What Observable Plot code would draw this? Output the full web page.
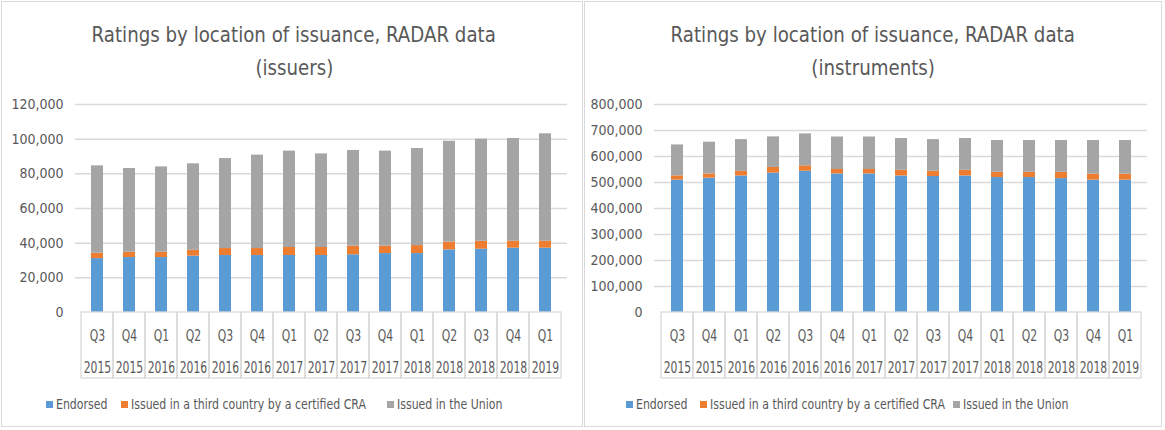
<!DOCTYPE html>
<html><head><meta charset="utf-8">
<script src="https://cdn.jsdelivr.net/npm/d3@7"></script>
<script src="https://cdn.jsdelivr.net/npm/@observablehq/plot@0.6"></script>
<style>
body{margin:0;background:#fff;}
#wrap{position:relative;width:1165px;height:430px;overflow:hidden;background:#fff;font-family:"Liberation Sans Narrow","DejaVu Sans Condensed",Roboto,sans-serif;color:#595959}
.box{position:absolute;top:1px;height:426px;border:1px solid #d9d9d9;box-sizing:border-box;background:#fff}
.title{position:absolute;top:18px;text-align:center;font-size:22px;line-height:33px;color:#595959;white-space:nowrap}
.title div span{display:inline-block;transform:scaleX(0.92);transform-origin:center}
.chart{position:absolute;top:84px}
.lg{position:absolute;top:395px;font-size:14px;line-height:18px;white-space:nowrap;color:#595959}
.lg .tx{display:inline-block;transform:scaleX(0.87);transform-origin:left center}
.sw{display:inline-block;width:7px;height:7px;margin-right:3px;vertical-align:1px}
</style>
</head><body>
<div id="wrap">
  <div class="box" style="left:1px;width:582px"></div>
  <div class="box" style="left:584px;width:578px"></div>
</div>
<script>
const quarters = ["Q3","Q4","Q1","Q2","Q3","Q4","Q1","Q2","Q3","Q4","Q1","Q2","Q3","Q4","Q1"];
const years = ["2015","2015","2016","2016","2016","2016","2017","2017","2017","2017","2018","2018","2018","2018","2019"];
const seriesNames = ["Endorsed","Issued in a third country by a certified CRA","Issued in the Union"];
const seriesColors = ["#5b9bd5","#ed7d31","#a5a5a5"];

// Issuers
const issuersEndorsed = [31100,31700,31700,32500,32900,32900,32900,32900,33300,34000,34000,36100,36500,37100,37100];
const issuersThird    = [3100,3100,3100,3400,4000,4000,4600,4600,5000,4300,4600,4500,4600,4000,4000];
const issuersUnion    = [50400,48300,49200,49900,51900,53900,55600,54000,55200,54800,56000,58200,58900,59300,62000];
const issuersTicks = [0,20000,40000,60000,80000,100000,120000];

// Instruments
const instrEndorsed = [509000,516500,525000,536000,543500,533000,533000,525000,523000,525000,519000,519000,515000,509000,509000];
const instrThird    = [16500,16500,18000,22000,20500,17000,17000,22000,20500,22000,20500,20500,24500,23000,23000];
const instrUnion    = [119000,122000,122000,117500,123000,125000,125000,122000,121500,122000,122000,122000,122000,129500,129500];
const instrTicks = [0,100000,200000,300000,400000,500000,600000,700000,800000];

const titles = [["Ratings by location of issuance, RADAR data","(issuers)"],["Ratings by location of issuance, RADAR data","(instruments)"]];

const cats = quarters.map((q,i)=>q+" "+years[i]);

function makeChart(seriesVals, ticks, width, marginLeft, marginRight){
  const rows = [];
  cats.forEach((c,i)=>seriesVals.forEach((vals,k)=>rows.push({cat:c, series:seriesNames[k], value:vals[i]})));
  return Plot.plot({
    width, height:301, marginLeft, marginRight, marginTop:20, marginBottom:73,
    style:{fontFamily:'"Liberation Sans Narrow","DejaVu Sans Condensed",Roboto,sans-serif', fontSize:"14px", color:"#595959", background:"transparent", overflow:"visible"},
    x:{domain:cats, padding:0, axis:null},
    y:{domain:[0, ticks[ticks.length-1]], axis:null},
    color:{domain:seriesNames, range:seriesColors},
    marks:[
      Plot.gridY(ticks.filter(d=>d>0), {stroke:"#d9d9d9", strokeOpacity:1, strokeWidth:1.5}),
      Plot.barY(rows, Plot.stackY({x:"cat", y:"value", fill:"series", order:seriesNames, insetLeft:10, insetRight:10})),
      Plot.cell(cats, {x:d=>d, fill:"none", stroke:"#d9d9d9", strokeWidth:1.3, insetTop:208, insetBottom:-66}),
      Plot.text(cats, {x:d=>d, text:(d,i)=>quarters[i], frameAnchor:"bottom", dy:28, fill:"#595959", fontSize:15, className:"xlab"}),
      Plot.text(cats, {x:d=>d, text:(d,i)=>years[i], frameAnchor:"bottom", dy:60, fill:"#595959", fontSize:15, className:"xlab"}),
      Plot.axisY(ticks, {tickSize:0, tickPadding:12, tickFormat:d3.format(","), fill:"#595959", fontSize:14, label:null})
    ]
  });
}

const wrap = document.getElementById("wrap");
function addTitle(lines, left, width){
  const t = document.createElement("div");
  t.className="title"; t.style.left=left+"px"; t.style.width=width+"px";
  t.innerHTML = lines.map(l=>"<div><span>"+l+"</span></div>").join("");
  wrap.appendChild(t);
}
function addChart(svg, left){
  const d = document.createElement("div"); d.className="chart"; d.style.left=left+"px";
  d.appendChild(svg); wrap.appendChild(d);
  // condense the category labels (narrow office font look)
  svg.querySelectorAll("g.xlab text").forEach(t=>{
    const len = t.getComputedTextLength();
    t.setAttribute("textLength", (len*0.8).toFixed(1));
    t.setAttribute("lengthAdjust","spacingAndGlyphs");
  });
}
function addLegend(left, positions){
  seriesNames.forEach((s,k)=>{
    const l = document.createElement("div"); l.className="lg"; l.style.left=(left+positions[k])+"px";
    l.innerHTML = '<span class="sw" style="background:'+seriesColors[k]+'"></span><span class="tx">'+s+'</span>';
    wrap.appendChild(l);
  });
}
addTitle(titles[0], 0, 588);
addTitle(titles[1], 584, 578);
addChart(makeChart([issuersEndorsed, issuersThird, issuersUnion], issuersTicks, 583, 75, 16), 0);
addChart(makeChart([instrEndorsed, instrThird, instrUnion], instrTicks, 581, 70, 18), 584);
addLegend(0, [46, 121, 387]);
addLegend(584, [42, 116, 369]);
</script>
</body></html>
